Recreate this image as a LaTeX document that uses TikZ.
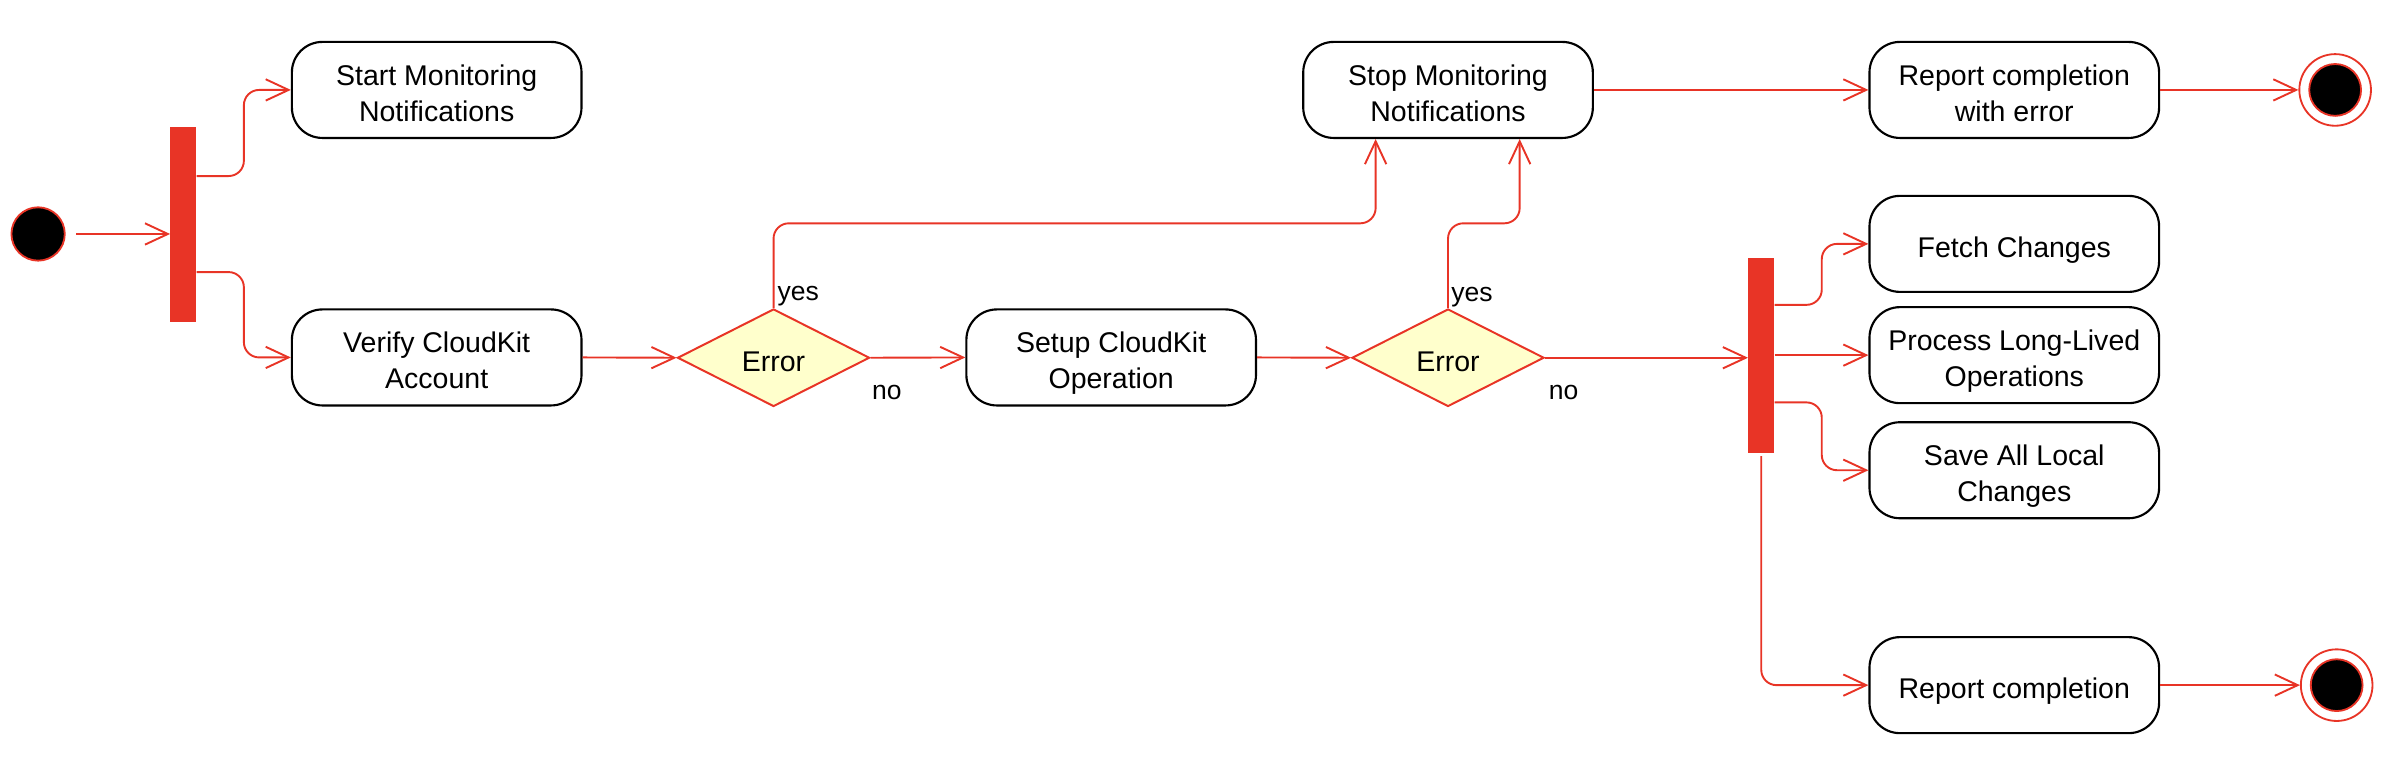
\documentclass[tikz,border=0pt]{standalone}
\usepackage{fontspec}
\setmainfont{Liberation Sans}
\usetikzlibrary{arrows.meta,shapes.geometric}
\definecolor{umlred}{RGB}{232,52,38}
\definecolor{umlyellow}{RGB}{255,255,204}
\newcommand{\topstrut}{\rule{0pt}{22.5pt}}
\newcommand{\botstrut}{\rule[-5pt]{0pt}{5pt}}
\tikzset{
  actbox/.style={draw=black, line width=1.4pt, rounded corners=20pt, minimum width=190pt, minimum height=63pt, inner sep=0pt, align=center, font=\fontsize{18.7}{23.5}\selectfont, execute at end node=\botstrut},
  decision/.style={diamond, draw=umlred, fill=umlyellow, line width=1.3pt, aspect=2, minimum width=126pt, minimum height=64pt, inner sep=0pt, font=\fontsize{18.7}{23.5}\selectfont, execute at end node=\botstrut},
  forkbar/.style={fill=umlred, draw=none, minimum width=17pt, minimum height=128pt, inner sep=0pt},
  initnode/.style={circle, fill=black, draw=umlred, line width=1.2pt, minimum size=35pt, inner sep=0pt},
  finalouter/.style={circle, draw=umlred, line width=1.2pt, minimum size=47pt, inner sep=0pt},
  finalinner/.style={circle, fill=black, draw=umlred, line width=1.2pt, minimum size=34pt, inner sep=0pt},
  flow/.style={draw=umlred, line width=1.25pt, rounded corners=10pt, -{Straight Barb[length=15pt,width=14pt]}},
  guard/.style={anchor=base west, inner sep=0pt, font=\fontsize{17.4}{20}\selectfont},
}
\begin{document}
\begin{tikzpicture}[x=1pt, y=-1pt]
\useasboundingbox (0,0) rectangle (1568,506);
% nodes
\node[initnode] (start) at (25,153.5) {};
\node[forkbar] (bar1) at (120.3,147.5) {};
\node[actbox] (startmon) at (286.5,59) {\topstrut Start Monitoring\\Notifications};
\node[actbox] (verify) at (286.5,234.5) {\topstrut Verify CloudKit\\Account};
\node[decision] (d1) at (507.5,234.7) {\topstrut Error};
\node[actbox] (setup) at (729,234.5) {\topstrut Setup CloudKit\\Operation};
\node[decision] (d2) at (950,234.7) {\topstrut Error};
\node[actbox] (stop) at (950,59) {\topstrut Stop Monitoring\\Notifications};
\node[actbox] (reperr) at (1321.5,59) {\topstrut Report completion\\with error};
\node[finalouter] (end1) at (1532,59) {};
\node[finalinner] (end1i) at (1532,59) {};
\node[forkbar] (bar2) at (1155.5,233) {};
\node[actbox] (fetch) at (1321.5,160) {\topstrut Fetch Changes};
\node[actbox] (process) at (1321.5,233) {\topstrut Process Long-Lived\\Operations};
\node[actbox] (save) at (1321.5,308.5) {\topstrut Save All Local\\Changes};
\node[actbox] (report) at (1321.5,449.5) {\topstrut Report completion};
\node[finalouter] (end2) at (1533,449.5) {};
\node[finalinner] (end2i) at (1533,449.5) {};
% helper coordinates
\coordinate (yrow) at (0,146.5);
\coordinate (s1) at ([xshift=-47.5pt]stop.south);
\coordinate (s2) at ([xshift=47pt]stop.south);
% connectors
\draw[flow, shorten <=7pt] (start) -- (start -| bar1.west);
\draw[flow] ([yshift=32pt]bar1.east) -- ++(31pt,0pt) |- (startmon.west);
\draw[flow] ([yshift=-31pt]bar1.east) -- ++(31pt,0pt) |- (verify.west);
\draw[flow] (verify.east) -- (d1.west);
\draw[flow] (d1.east) -- (setup.west);
\draw[flow] (setup.east) -- (d2.west);
\draw[flow] (d1.north) -- (d1.north |- yrow) -| (s1);
\draw[flow] (d2.north) -- (d2.north |- yrow) -| (s2);
\draw[flow] (stop.east) -- (reperr.west);
\draw[flow] (reperr.east) -- (end1.west);
\draw[flow] (d2.east) -- (d2.east -| bar2.west);
\draw[flow] ([yshift=33pt]bar2.east) -- ++(31pt,0pt) |- (fetch.west);
\draw[flow] (bar2.east) -- (process.west);
\draw[flow] ([yshift=-31pt]bar2.east) -- ++(31pt,0pt) |- (save.west);
\draw[flow, shorten <=2pt] (bar2.south) |- (report.west);
\draw[flow] (report.east) -- (end2.west);
% guards
\node[guard] (yes1) at (510,197) {yes};
\node[guard] (no1) at (572,262) {no};
\node[guard] (yes2) at (952,197.5) {yes};
\node[guard] (no2) at (1016,262) {no};
\end{tikzpicture}
\end{document}
